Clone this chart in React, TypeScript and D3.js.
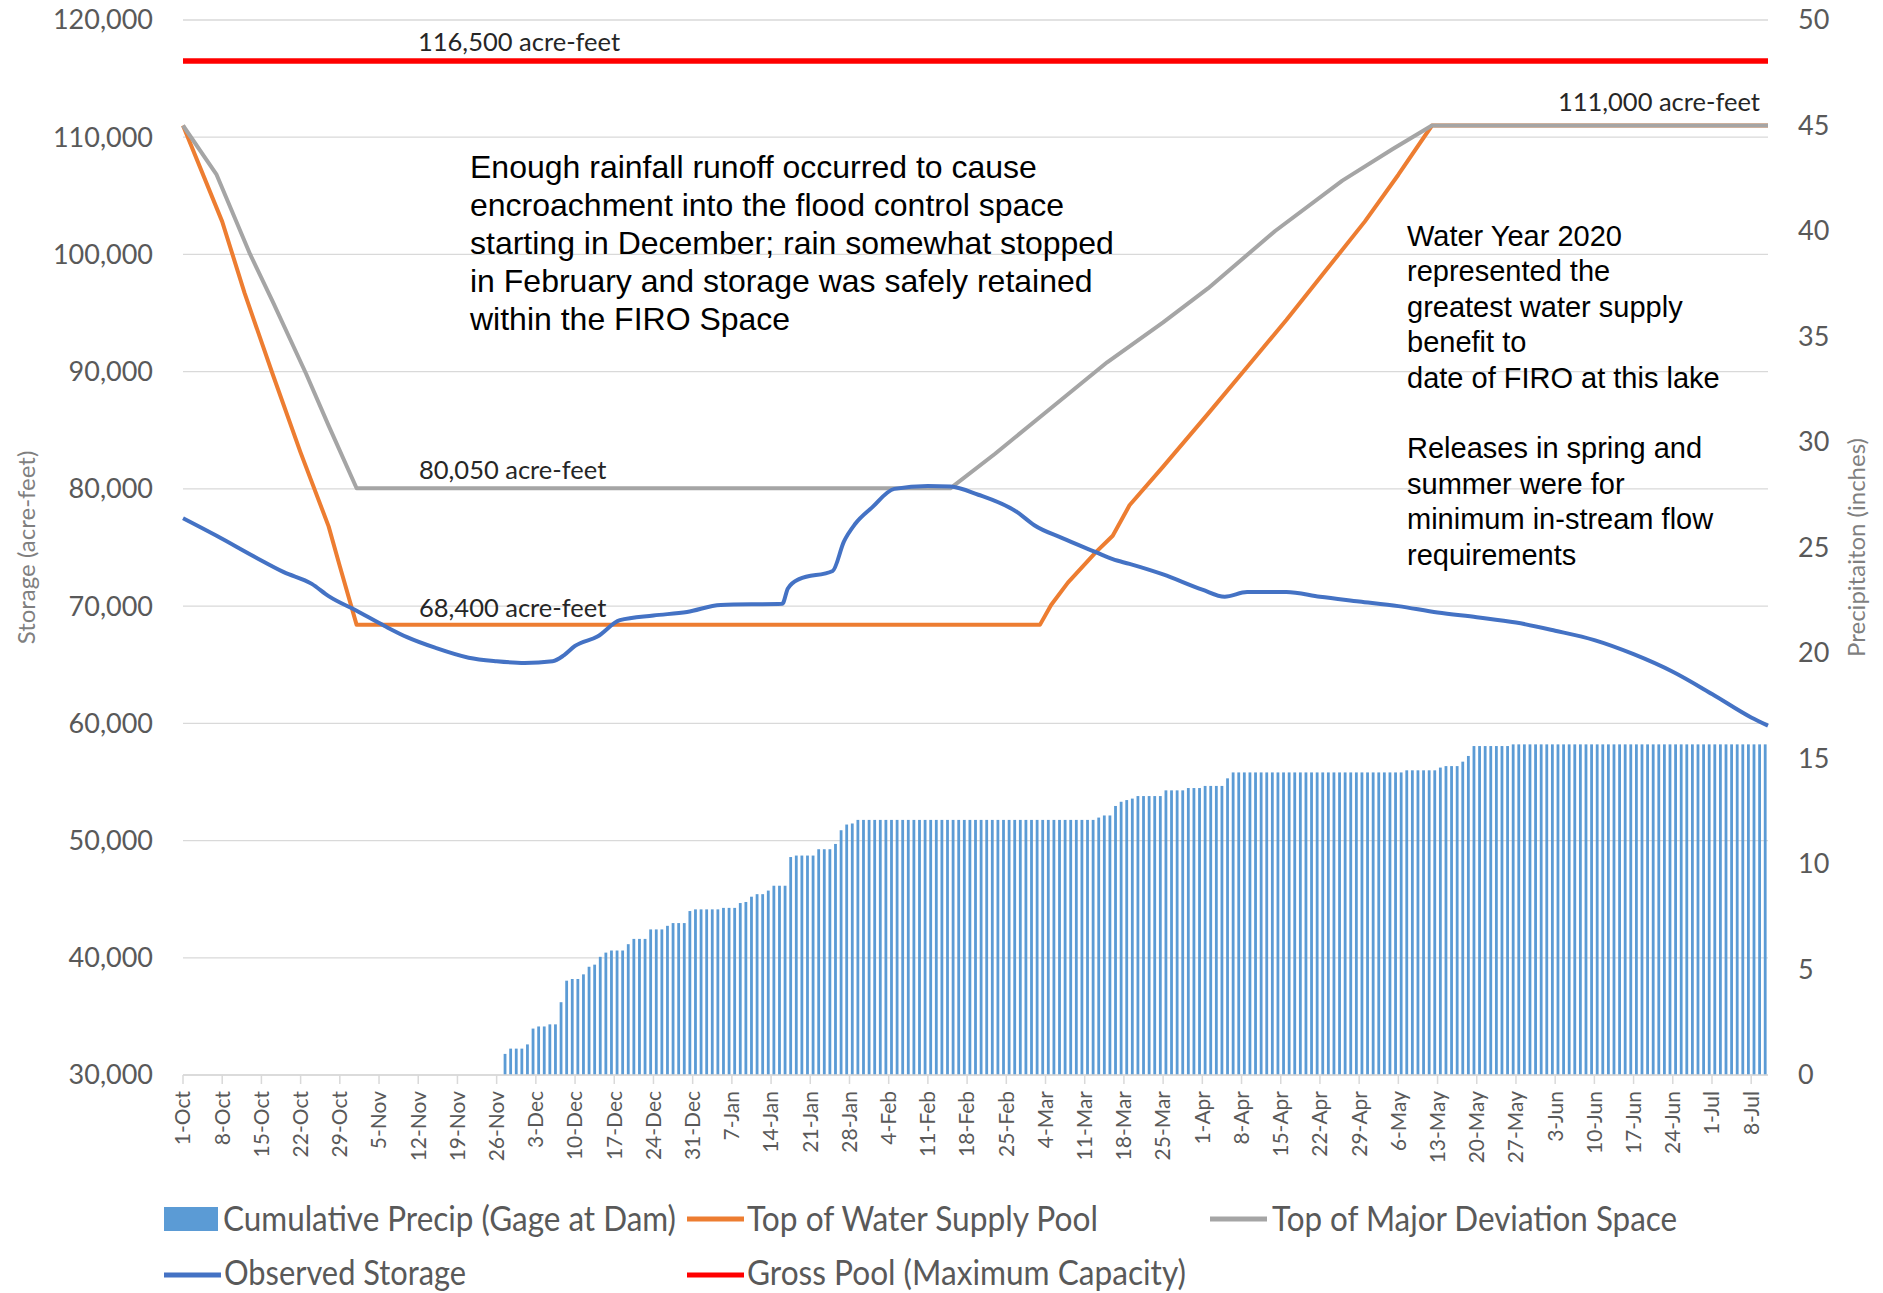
import * as d3 from 'd3';

// weekly category labels on the date axis (every 7 days from 1-Oct)
const tickLabels = [
  '1-Oct', '8-Oct', '15-Oct', '22-Oct', '29-Oct', '5-Nov', '12-Nov', '19-Nov', '26-Nov',
  '3-Dec', '10-Dec', '17-Dec', '24-Dec', '31-Dec', '7-Jan', '14-Jan', '21-Jan', '28-Jan',
  '4-Feb', '11-Feb', '18-Feb', '25-Feb', '4-Mar', '11-Mar', '18-Mar', '25-Mar', '1-Apr',
  '8-Apr', '15-Apr', '22-Apr', '29-Apr', '6-May', '13-May', '20-May', '27-May', '3-Jun',
  '10-Jun', '17-Jun', '24-Jun', '1-Jul', '8-Jul',
];

const storageTicks = [30000, 40000, 50000, 60000, 70000, 80000, 90000, 100000, 110000, 120000];
const precipTicks = [0, 5, 10, 15, 20, 25, 30, 35, 40, 45, 50];

// cumulative precip (inches), one value per day starting at day 57 (27-Nov)
const precipStartDay = 57;
const cumulativePrecip = [
  1.0, 1.25, 1.25, 1.25, 1.45, 2.2, 2.3, 2.3, 2.4, 2.4,
  3.45, 4.47, 4.55, 4.55, 4.77, 5.13, 5.23, 5.6, 5.8, 5.9,
  5.9, 5.9, 6.2, 6.45, 6.45, 6.45, 6.9, 6.9, 6.9, 7.07,
  7.2, 7.2, 7.2, 7.77, 7.85, 7.85, 7.85, 7.85, 7.85, 7.92,
  7.92, 7.92, 8.15, 8.2, 8.45, 8.57, 8.57, 8.74, 8.97, 8.97,
  8.97, 10.33, 10.4, 10.4, 10.4, 10.4, 10.7, 10.7, 10.7, 10.95,
  11.6, 11.87, 11.92,
  12.09, 12.09, 12.09, 12.09, 12.09, 12.09, 12.09, 12.09, 12.09, 12.09,
  12.09, 12.09, 12.09, 12.09, 12.09, 12.09, 12.09, 12.09, 12.09, 12.09,
  12.09, 12.09, 12.09, 12.09, 12.09, 12.09, 12.09, 12.09, 12.09, 12.09,
  12.09, 12.09, 12.09, 12.09, 12.09, 12.09, 12.09, 12.09, 12.09, 12.09,
  12.09, 12.09, 12.09,
  12.2, 12.3, 12.3, 12.75, 12.95, 13.03, 13.1, 13.22, 13.22, 13.22,
  13.22, 13.22, 13.49, 13.49, 13.49, 13.49, 13.6, 13.6, 13.6, 13.7,
  13.7, 13.7, 13.7, 14.06,
  14.34, 14.34, 14.34, 14.34, 14.34, 14.34, 14.34, 14.34, 14.34, 14.34,
  14.34, 14.34, 14.34, 14.34, 14.34, 14.34, 14.34, 14.34, 14.34, 14.34,
  14.34, 14.34, 14.34, 14.34, 14.34, 14.34, 14.34, 14.34, 14.34, 14.34,
  14.34,
  14.44, 14.44, 14.44, 14.44, 14.44, 14.44, 14.57, 14.64, 14.64, 14.64,
  14.85, 15.12, 15.59, 15.59, 15.59, 15.59, 15.59, 15.59, 15.59,
  15.67, 15.67, 15.67, 15.67, 15.67, 15.67, 15.67, 15.67, 15.67, 15.67,
  15.67, 15.67, 15.67, 15.67, 15.67, 15.67, 15.67, 15.67, 15.67, 15.67,
  15.67, 15.67, 15.67, 15.67, 15.67, 15.67, 15.67, 15.67, 15.67, 15.67,
  15.67, 15.67, 15.67, 15.67, 15.67, 15.67, 15.67, 15.67, 15.67, 15.67,
  15.67, 15.67, 15.67, 15.67, 15.67, 15.67,
];

// [day since 1-Oct, acre-feet]
const waterSupplyPool: [number, number][] = [
  [0, 111000], [7, 102800], [11, 96700], [16, 89800], [21, 83100], [26, 76800],
  [28, 73400], [31, 68400], [153, 68400], [155, 70100], [158, 72000], [163, 74600],
  [166, 76000], [169, 78600], [175, 81900], [183, 86400], [190, 90400], [197, 94400],
  [204, 98600], [211, 102800], [217, 106800], [223, 111000], [283, 111000],
];

const majorDeviation: [number, number][] = [
  [0, 111000], [6, 106800], [12, 100000], [16, 96000], [22, 89800], [26, 85400],
  [31, 80050], [137, 80050], [145, 83000], [155, 86900], [165, 90800], [175, 94200],
  [183, 97100], [195, 102000], [207, 106300], [216, 109000], [223, 111000], [283, 111000],
];

const observedStorage: [number, number][] = [
  [0, 77500], [6, 76000], [13, 74150], [18, 72900], [23, 71900], [26, 70850],
  [31, 69600], [36, 68300], [40, 67350], [45, 66450], [51, 65600], [56, 65300],
  [61, 65150], [66, 65300], [68, 65800], [70, 66600], [74, 67400], [78, 68800],
  [84, 69200], [90, 69500], [96, 70100], [107, 70200], [108, 71500], [110, 72300],
  [116, 73000], [118, 75500], [120, 77000], [123, 78400], [127, 80000], [133, 80250],
  [137, 80200], [142, 79500], [149, 78000], [152, 76900], [157, 75800], [163, 74600],
  [166, 74000], [169, 73600], [175, 72700], [182, 71400], [186, 70800], [190, 71200],
  [197, 71200], [203, 70800], [210, 70400], [217, 70000], [224, 69450], [231, 69050],
  [238, 68600], [245, 67900], [252, 67100], [259, 65900], [266, 64400], [273, 62500],
  [280, 60500], [283, 59800],
];

const grossPool: [number, number][] = [[0, 116500], [283, 116500]];

const legendNames = [
  'Cumulative Precip (Gage at Dam)',
  'Top of Water Supply Pool',
  'Top of Major Deviation Space',
  'Observed Storage',
  'Gross Pool (Maximum Capacity)',
];

const noteLeft = [
  'Enough rainfall runoff occurred to cause',
  'encroachment into the flood control space',
  'starting in December; rain somewhat stopped',
  'in February and storage was safely retained',
  'within the FIRO Space',
];

const noteRight = [
  'Water Year 2020',
  'represented the',
  'greatest water supply',
  'benefit to',
  'date of FIRO at this lake',
  '',
  'Releases in spring and',
  'summer were for',
  'minimum in-stream flow',
  'requirements',
];

const W = 1883;
const H = 1293;
const left = 183;
const right = 1768;
const top = 20;
const bottom = 1075;

const COLORS = {
  precip: '#5b9bd5',
  supply: '#ed7d31',
  deviation: '#a5a5a5',
  observed: '#4472c4',
  gross: '#ff0000',
};

const axisFont = 'Lato, "Open Sans", sans-serif';
const noteFont = '"Liberation Sans", Arial, sans-serif';

export default function App() {
  const x = d3.scaleLinear().domain([0, 283]).range([left, right]);
  const yL = d3.scaleLinear().domain([30000, 120000]).range([bottom, top]);
  const yR = d3.scaleLinear().domain([0, 50]).range([bottom, top]);

  const line = d3.line<[number, number]>().x(d => x(d[0])).y(d => yL(d[1]));
  const smooth = d3.line<[number, number]>().x(d => x(d[0])).y(d => yL(d[1])).curve(d3.curveMonotoneX);

  const fmt = d3.format(',');
  const barW = 2.8;

  const legendLayout = [
    { kind: 'bar', color: COLORS.precip, sx: 164, tx: 223, y: 1219, ty: 1231, tl: 453 },
    { kind: 'line', color: COLORS.supply, sx: 687, tx: 747, y: 1219, ty: 1231, tl: 351 },
    { kind: 'line', color: COLORS.deviation, sx: 1210, tx: 1272, y: 1219, ty: 1231, tl: 405 },
    { kind: 'line', color: COLORS.observed, sx: 164, tx: 224, y: 1275, ty: 1285, tl: 242 },
    { kind: 'line', color: COLORS.gross, sx: 687, tx: 747, y: 1275, ty: 1285, tl: 439 },
  ];

  return (
    <div style={{ position: 'absolute', left: 0, top: 0 }}>
      <svg width={W} height={H} style={{ display: 'block', background: '#fff' }}>
        {/* gridlines */}
        {storageTicks.map(t => (
          <line key={t} x1={left} x2={right} y1={yL(t)} y2={yL(t)} stroke="#d9d9d9" strokeWidth={1.3} />
        ))}

        {/* precip bars */}
        <g fill={COLORS.precip}>
          {cumulativePrecip.map((v, i) => {
            const day = precipStartDay + i;
            return (
              <rect key={day} x={x(day + 0.5) - barW / 2} y={yR(v)} width={barW} height={bottom - yR(v)} />
            );
          })}
        </g>

        {/* x axis */}
        <line x1={left} x2={right} y1={bottom} y2={bottom} stroke="#d9d9d9" strokeWidth={1.5} />
        {tickLabels.map((lab, i) => {
          const tx = x(i * 7);
          return (
            <g key={lab}>
              <line x1={tx} x2={tx} y1={bottom} y2={bottom + 9} stroke="#d9d9d9" strokeWidth={1.5} />
              <text
                transform={`translate(${tx},1091) rotate(-90)`}
                textAnchor="end"
                dy="0.35em"
                fontFamily={axisFont}
                fontSize={21}
                fill="#595959"
              >
                {lab}
              </text>
            </g>
          );
        })}

        {/* lines */}
        <path d={line(waterSupplyPool) ?? ''} fill="none" stroke={COLORS.supply} strokeWidth={4} strokeLinejoin="round" />
        <path d={line(majorDeviation) ?? ''} fill="none" stroke={COLORS.deviation} strokeWidth={4} strokeLinejoin="round" />
        <path d={smooth(observedStorage) ?? ''} fill="none" stroke={COLORS.observed} strokeWidth={4} strokeLinejoin="round" />
        <path d={line(grossPool) ?? ''} fill="none" stroke={COLORS.gross} strokeWidth={5.5} />

        {/* left axis */}
        {storageTicks.map(t => (
          <text key={t} x={153} y={yL(t)} dy="0.35em" textAnchor="end" fontFamily={axisFont} fontSize={27} fill="#595959">
            {fmt(t)}
          </text>
        ))}
        <text
          transform={`translate(27,${(top + bottom) / 2}) rotate(-90)`}
          textAnchor="middle"
          dy="0.35em"
          fontFamily={axisFont}
          fontSize={24}
          fill="#7f7f7f"
        >
          Storage (acre-feet)
        </text>

        {/* right axis */}
        {precipTicks.map(t => (
          <text key={t} x={1798} y={yR(t)} dy="0.35em" textAnchor="start" fontFamily={axisFont} fontSize={27} fill="#595959">
            {t}
          </text>
        ))}
        <text
          transform={`translate(1857,${(top + bottom) / 2}) rotate(-90)`}
          textAnchor="middle"
          dy="0.35em"
          fontFamily={axisFont}
          fontSize={24}
          fill="#7f7f7f"
        >
          Precipitaiton (inches)
        </text>

        {/* value labels */}
        <g fontFamily={axisFont} fontSize={25.5} fill="#262626">
          <text x={418} y={yL(116500) - 10}>116,500 acre-feet</text>
          <text x={1760} y={yL(111000) - 15} textAnchor="end">111,000 acre-feet</text>
          <text x={419} y={yL(80050) - 9}>80,050 acre-feet</text>
          <text x={419} y={yL(68400) - 8}>68,400 acre-feet</text>
        </g>

        {/* annotations */}
        <g fontFamily={noteFont} fontSize={32} fill="#000">
          {noteLeft.map((s, i) => (
            <text key={i} x={470} y={178 + i * 38}>{s}</text>
          ))}
        </g>
        <g fontFamily={noteFont} fontSize={29} fill="#000">
          {noteRight.map((s, i) => (
            <text key={i} x={1407} y={246 + i * 35.4}>{s}</text>
          ))}
        </g>

        {/* legend */}
        {legendLayout.map((l, i) => (
          <g key={legendNames[i]}>
            {l.kind === 'bar' ? (
              <rect x={l.sx} y={l.y - 12} width={54} height={24} fill={l.color} />
            ) : (
              <line x1={l.sx} x2={l.sx + 57} y1={l.y} y2={l.y} stroke={l.color} strokeWidth={5} />
            )}
            <text
              x={l.tx}
              y={l.ty}
              fontFamily={axisFont}
              fontSize={35}
              fill="#595959"
              textLength={l.tl}
              lengthAdjust="spacingAndGlyphs"
            >
              {legendNames[i]}
            </text>
          </g>
        ))}
      </svg>
    </div>
  );
}
